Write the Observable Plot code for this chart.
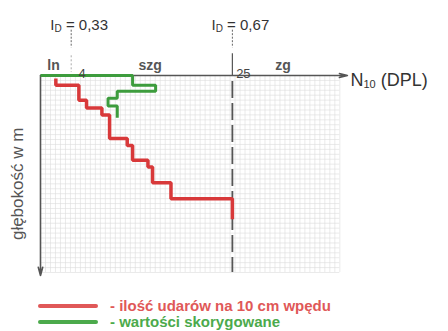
<!DOCTYPE html>
<html>
<head>
<meta charset="utf-8">
<script src="https://cdn.jsdelivr.net/npm/d3@7"></script>
<script src="https://cdn.jsdelivr.net/npm/@observablehq/plot@0.6"></script>
<style>
  html, body { margin: 0; padding: 0; background: #fff; }
  #wrap { position: relative; width: 448px; height: 331px; overflow: hidden; font-family: "Liberation Sans", Arial, sans-serif; }
  .leg { position: absolute; left: 38px; display: flex; align-items: center; font-family: "Liberation Sans Narrow", "Liberation Sans", Arial, sans-serif; font-weight: bold; font-size: 15px; line-height: 16px; }
  .leg .sw { width: 60px; height: 4px; border-radius: 2px; margin-right: 12px; }
</style>
</head>
<body>
<div id="wrap"></div>
<script>
// N10 blows per 10 cm (red) and corrected values (green), depth in m
const redValues = [2, 5, 6, 8, 9, 11.3, 12, 14, 14.6, 17, 25];
const redDepth = [0.03, 0.10, 0.25, 0.33, 0.40, 0.64, 0.71, 0.86, 0.93, 1.09, 1.25, 1.46];
const greenValues = [0, 12, 15, 10, 8.8, 10];
const greenDepth = [0, 0, 0.10, 0.16, 0.23, 0.31, 0.43];

const zoneLabels = ["ln", "szg", "zg"];
const zoneX = [1.7, 14.3, 31.6];
const tickValues = [4, 25];
const tickLabels = ["4", "25"];
const idValues = [4, 25];
const idLabels = ["ID = 0,33", "ID = 0,67"];
const xLabel = "N10 (DPL)";
const yLabel = "głębokość w m";
const legendLabels = ["- ilość udarów na 10 cm wpędu", "- wartości skorygowane"];
const legendColors = ["#e05858", "#4caa4c"];

const xMax = 40, depthMax = 2;

const toPts = (vals, dep) => {
  const pts = vals.map((v, i) => ({x: v, y: dep[i]}));
  pts.push({x: vals[vals.length - 1], y: dep[dep.length - 1]});
  return pts;
};
const redPts = toPts(redValues, redDepth);
const greenPts = toPts(greenValues, greenDepth);

const xGrid = d3.range(0.65, 39.2, 0.65);
const yGrid = d3.range(0.05, depthMax + 0.001, 0.05);

const chart = Plot.plot({
  width: 448,
  height: 290,
  marginLeft: 40,
  marginRight: 101,
  marginTop: 75,
  marginBottom: 18,
  x: {domain: [0, xMax], axis: null},
  y: {domain: [0, depthMax], axis: null, reverse: true},
  style: {fontFamily: "Liberation Sans, Arial, sans-serif", overflow: "visible"},
  marks: [
    Plot.ruleX(xGrid, {x: d => d, y1: 0, y2: depthMax, stroke: "#dcdcdc", strokeWidth: 0.6}),
    Plot.ruleY(yGrid, {y: d => d, x1: 0, x2: 39, stroke: "#dcdcdc", strokeWidth: 0.6}),
    // ID boundary lines
    Plot.ruleX([idValues[1]], {x: d => d, y1: 0.06, y2: depthMax, stroke: "#555", strokeWidth: 1.8, strokeDasharray: "17,5"}),
    Plot.ruleX([idValues[1]], {x: d => d, y1: -0.22, y2: 0, stroke: "#555", strokeWidth: 1.2}),
    Plot.ruleX(idValues, {x: d => d, y1: -0.46, y2: -0.28, stroke: "#666", strokeWidth: 1, strokeDasharray: "2,1.5"}),
    Plot.ruleX([idValues[0]], {x: d => d, y1: -0.2, y2: -0.03, stroke: "#aaa", strokeWidth: 1, strokeDasharray: "2,2"}),
    // axes with arrows
    Plot.arrow([0], {x1: 0, y1: 0, x2: xMax, y2: 0, stroke: "#555", strokeWidth: 1.4, headLength: 9, headAngle: 28}),
    Plot.arrow([0], {x1: 0, y1: 0, x2: 0, y2: depthMax + 0.03, stroke: "#555", strokeWidth: 1.6, headLength: 8, headAngle: 30}),
    // series
    Plot.line(redPts, {x: "x", y: "y", curve: "step-before", stroke: "#d8393a", strokeWidth: 3.5, strokeLinejoin: "miter", strokeLinecap: "butt"}),
    Plot.line(greenPts, {x: "x", y: "y", curve: "step-before", stroke: "#3d9c3d", strokeWidth: 3, strokeLinejoin: "miter", strokeLinecap: "butt"}),
    // labels
    Plot.text(zoneLabels, {x: (d, i) => zoneX[i], text: d => d, frameAnchor: "top", dy: -15, fontSize: 14, fontWeight: "bold", fill: "#555"}),
    Plot.text(tickLabels, {x: (d, i) => tickValues[i], text: d => d, frameAnchor: "top", dx: 11, dy: -7, fontSize: 13, fill: "#444"}),
    Plot.text(idLabels, {x: (d, i) => idValues[i], text: d => d, frameAnchor: "top", dx: 8, dy: -56, fontSize: 15, fill: "#333", className: "idlab"}),
    Plot.text([xLabel], {x: xMax, text: d => d, frameAnchor: "top", textAnchor: "start", dx: 3, dy: -2, fontSize: 18, fill: "#333", className: "xlab"}),
    Plot.text([yLabel], {x: 0, y: 1.1, text: d => d, dx: -23, rotate: -90, fontSize: 17, fill: "#555", className: "ylab"})
  ]
});

// subscripts
d3.select(chart).selectAll(".idlab text").each(function() {
  const t = this.textContent;
  const rest = t.slice(2);
  const s = d3.select(this);
  s.text("");
  s.append("tspan").text("I");
  s.append("tspan").attr("font-size", 10).attr("dy", 2).text("D");
  s.append("tspan").attr("dy", -2).text(rest);
});
d3.select(chart).selectAll(".xlab text").each(function() {
  const s = d3.select(this);
  s.text("");
  s.append("tspan").text("N");
  s.append("tspan").attr("font-size", 11).attr("dy", 2).text("10");
  s.append("tspan").attr("dy", -2).text(" (DPL)");
});

const wrap = document.getElementById("wrap");
wrap.appendChild(chart);
legendLabels.forEach((lab, i) => {
  const row = document.createElement("div");
  row.className = "leg";
  row.style.top = (298 + i * 16) + "px";
  row.style.color = legendColors[i];
  const sw = document.createElement("div");
  sw.className = "sw";
  sw.style.background = legendColors[i];
  row.appendChild(sw);
  const tx = document.createElement("span");
  tx.textContent = lab;
  row.appendChild(tx);
  wrap.appendChild(row);
});
</script>
</body>
</html>
